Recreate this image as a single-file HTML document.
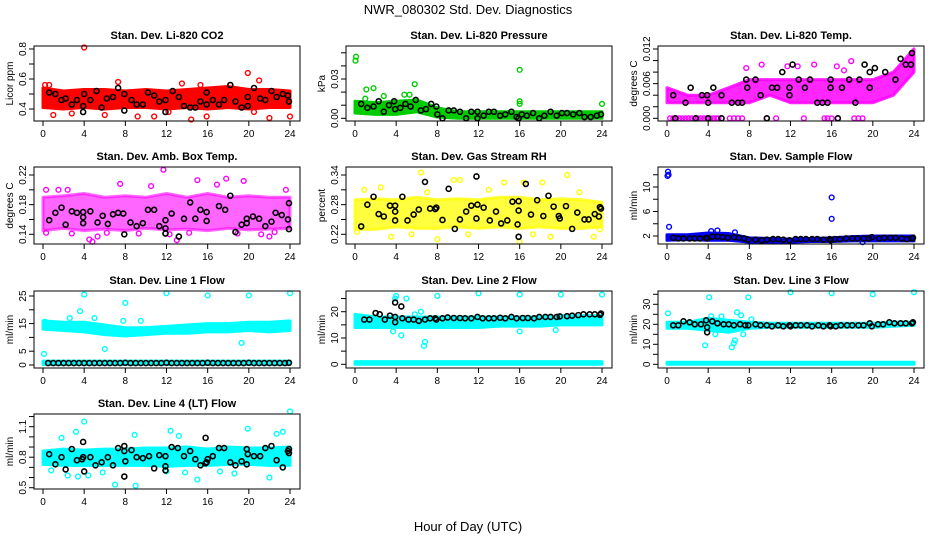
<!DOCTYPE html>
<html><head><meta charset="utf-8"><style>
html,body{margin:0;padding:0;background:#fff}
svg{display:block;font-family:"Liberation Sans",sans-serif}
</style></head><body>
<svg id="chart" width="936" height="540" viewBox="0 0 936 540">
<text x="468" y="14" text-anchor="middle" font-size="13">NWR_080302  Std. Dev. Diagnostics</text>
<text x="468" y="531" text-anchor="middle" font-size="13">Hour of Day (UTC)</text>
</svg>
<script>
const bandHours=[0,2,4,6,8,10,12,14,16,18,20,22,24];
const xTicks=[0,4,8,12,16,20,24];

// P1 CO2
const co2Lo=[0.41,0.40,0.41,0.40,0.41,0.41,0.40,0.41,0.40,0.41,0.40,0.41,0.41];
const co2Hi=[0.54,0.52,0.53,0.53,0.52,0.53,0.52,0.53,0.54,0.55,0.53,0.53,0.52];
const co2OutH=[4,0.2,0.6,2.8,7.3,1.0,6.0,9.2,10.8,14.4,15.9,18.2,19.9,21,22,24,13.5,15.3,12.2,20.5];
const co2OutV=[0.81,0.56,0.56,0.37,0.58,0.36,0.36,0.35,0.35,0.33,0.35,0.56,0.64,0.59,0.34,0.35,0.57,0.56,0.38,0.38];
const co2BlkH=[0.6,1.2,1.8,2.2,2.8,3.3,3.9,3.9,4,4.6,5.2,5.7,6.2,6.8,7.3,7.9,7.9,8.6,9.1,9.7,10.2,10.8,11.3,11.9,11.9,12.6,13.2,13.7,14.3,14.8,15.3,15.9,15.9,16.5,17.1,17.6,18.2,18.7,19.3,19.9,19.9,20.5,21.1,21.6,22.2,22.7,23.3,23.8,23.9];
const co2BlkV=[0.51,0.50,0.46,0.47,0.43,0.46,0.42,0.38,0.50,0.46,0.52,0.41,0.47,0.48,0.54,0.50,0.39,0.46,0.43,0.43,0.51,0.49,0.45,0.46,0.38,0.52,0.48,0.42,0.41,0.41,0.45,0.51,0.43,0.46,0.43,0.46,0.56,0.45,0.41,0.48,0.42,0.54,0.47,0.46,0.52,0.48,0.50,0.49,0.45];

// P2 Pressure
const prLo=[0.004,0.003,0.003,0.005,0.001,0,0,0,0,0,0,0,0];
const prHi=[0.013,0.012,0.013,0.014,0.008,0.005,0.005,0.005,0.005,0.005,0.005,0.005,0.005];
const prOutH=[0.1,0.05,1.1,1.8,5.8,2.8,4.8,5.3,16,16,16,24,1.0];
const prOutV=[0.047,0.044,0.022,0.023,0.026,0.017,0.018,0.018,0.037,0.013,0.011,0.011,0.015];
const prBlkH=[0.6,1.2,1.8,2.3,2.8,3.3,3.8,3.9,4.4,4.9,5.4,5.9,6.4,6.9,7.4,7.9,8.0,8.5,9.1,9.6,10.2,10.8,11.3,11.9,11.9,12.5,13,13.5,14.1,14.6,15.2,15.7,15.9,16.2,16.7,17.3,17.9,18.4,19,19.6,20.1,20.6,21.2,21.8,22.3,22.9,23.5,23.9];
const prBlkV=[0.011,0.008,0.009,0.013,0.005,0.010,0.013,0.007,0.008,0.011,0.009,0.014,0.006,0.007,0.011,0.009,0.003,0.000,0.006,0.006,0.005,0.000,0.005,0.005,0.000,0.002,0.005,0.005,0.002,0.003,0.005,0.001,0.000,0.003,0.002,0.004,0.000,0.002,0.005,0.002,0.004,0.004,0.003,0.004,0.001,0.001,0.002,0.003];

// P3 Temp
const tpLo=[0.0027,0.0027,0.0027,0.0027,0.0027,0.004,0.0027,0.0027,0.0027,0.0027,0.0027,0.004,0.008];
const tpHi=[0.0053,0.004,0.004,0.0053,0.0067,0.0067,0.0067,0.0067,0.0067,0.0067,0.0067,0.008,0.012];
const tpOutH=[0.3,0.6,0.9,1.2,1.5,1.8,2.1,2.4,2.7,3.0,3.3,3.6,3.9,4.2,4.5,4.8,5.0,6.1,6.5,6.9,7.3,9.7,10.6,13.3,15.3,15.6,16.0,16.6,18.2,18.6,19.0,7.7,9.2,11.7,12.7,14.3,16.5,17.9,17.2];
const tpOutV=[0,0,0,0,0,0,0,0,0,0,0,0,0,0,0,0,0,0,0,0,0,0,0,0,0,0,0,0,0,0,0,0.0087,0.0093,0.009,0.009,0.0093,0.009,0.0099,0.0083];
const tpBlkH=[0.6,1.8,2.3,3.4,3.9,4.0,4.5,5.3,6.3,6.9,7.3,7.7,7.8,8.6,9.1,10.2,10.7,11.2,11.9,11.9,12.2,12.8,13.4,13.9,14.6,15.1,15.9,15.9,15.6,17.0,17.7,18.3,18.7,19.2,19.7,19.7,20.2,21.2,22.2,22.7,23.2,23.7,23.8,0.8,2.8,4,5.3,9.7,16.6];
const tpBlkV=[0.004,0.0027,0.0053,0.004,0.004,0.0027,0.0053,0.004,0.0027,0.0027,0.0027,0.0067,0.0053,0.0067,0.004,0.0053,0.0053,0.008,0.004,0.0053,0.0093,0.0067,0.0053,0.0067,0.0027,0.0027,0.0067,0.0053,0.0027,0.0053,0.0067,0.0027,0.0067,0.0093,0.008,0.0053,0.0087,0.008,0.0067,0.0103,0.0093,0.0093,0.0113,0,0,0,0,0,0];

// P4 Amb box temp
const abLo=[0.145,0.148,0.145,0.147,0.145,0.148,0.146,0.147,0.145,0.148,0.146,0.147,0.148];
const abHi=[0.19,0.192,0.195,0.19,0.192,0.19,0.195,0.19,0.195,0.19,0.192,0.19,0.19];
const abOutH=[0.3,1.5,11.7,15,17.8,19.5,4.5,4.8,13,22,5.3,10.5,7.5,16.9,23.6,2.4,0.3,2.8,6.2,9.3,12.3,14.2,18.9,21.2,22.5];
const abOutV=[0.2,0.2,0.227,0.213,0.215,0.212,0.133,0.13,0.132,0.137,0.137,0.205,0.208,0.207,0.2,0.2,0.142,0.141,0.142,0.141,0.14,0.142,0.141,0.14,0.143];
const abBlkH=[0.6,1.2,1.8,2.2,2.8,3.3,3.9,3.9,3.9,4.6,5.3,5.8,6.3,6.8,7.3,7.8,7.9,8.5,9.1,9.7,10.2,10.8,11.3,11.9,11.9,11.9,12.5,13.2,13.7,14.3,14.8,15.3,15.9,15.9,17.1,17.7,18.2,18.7,19.3,19.8,19.8,20.4,21.0,21.6,22.2,22.6,23.2,23.8,23.9,23.9];
const abBlkV=[0.159,0.169,0.176,0.153,0.171,0.169,0.155,0.163,0.170,0.171,0.156,0.165,0.154,0.167,0.169,0.168,0.140,0.156,0.151,0.155,0.173,0.173,0.151,0.159,0.148,0.141,0.168,0.137,0.161,0.183,0.161,0.173,0.170,0.158,0.178,0.173,0.192,0.143,0.153,0.161,0.155,0.164,0.161,0.151,0.157,0.169,0.166,0.160,0.147,0.182];

// P5 RH
const rhLo=[0.23,0.23,0.235,0.232,0.232,0.235,0.232,0.235,0.232,0.235,0.232,0.232,0.235];
const rhHi=[0.29,0.292,0.29,0.295,0.29,0.292,0.29,0.295,0.295,0.29,0.292,0.29,0.285];
const rhOutH=[6.4,20.6,9.6,10.2,16.4,0.9,16,8,3.5,0.2,19,14.5,18.2,2.5,5.5,7,11,13,17.3,21.8,23.2,23.8];
const rhOutV=[0.345,0.34,0.33,0.33,0.325,0.31,0.205,0.21,0.215,0.225,0.215,0.325,0.325,0.315,0.22,0.305,0.22,0.31,0.22,0.305,0.215,0.23];
const rhBlkH=[0.6,1.2,1.8,2.3,2.8,3.4,3.9,3.9,3.9,4.6,5.1,5.7,6.2,6.8,7.3,7.8,7.9,8.5,9.1,9.7,10.2,10.8,11.3,11.8,11.8,11.9,12.5,13.1,13.7,14.2,14.8,15.3,15.9,15.9,15.8,15.9,16.6,17.1,17.7,18.3,18.8,19.3,19.8,19.9,20.5,21.1,21.6,22.3,22.7,23.3,23.7,23.8,23.9];
const rhBlkV=[0.236,0.280,0.296,0.261,0.256,0.278,0.278,0.266,0.248,0.296,0.248,0.260,0.270,0.326,0.272,0.271,0.274,0.249,0.312,0.231,0.250,0.266,0.278,0.252,0.337,0.280,0.274,0.248,0.266,0.242,0.248,0.286,0.287,0.268,0.240,0.215,0.322,0.260,0.289,0.257,0.298,0.276,0.257,0.252,0.277,0.231,0.264,0.250,0.250,0.261,0.256,0.275,0.272];

// P6 Sample flow
const sfLo=[1.3,1.4,1.3,1.3,1.0,1.0,1.0,1.1,1.1,1.2,1.2,1.2,1.2];
const sfHi=[2.2,2.2,2.5,2.4,1.7,1.6,1.5,1.6,1.7,1.9,2.0,2.0,2.0];
const sfOutH=[0.1,0.05,0.15,0.2,16,16,19,4.3,4.9,6.6];
const sfOutV=[12.5,11.8,12.0,3.5,8.3,4.8,1.0,2.8,2.9,2.6];
const sfBlkH=[0.6,1.1,1.6,2.2,2.7,3.2,3.8,3.9,4.4,4.9,5.4,5.9,6.5,7,7.5,7.9,8.6,9.2,9.7,10.3,10.8,11.3,11.9,12.5,13,13.5,14.1,14.6,15.2,15.8,15.9,16.3,16.8,17.4,18,18.5,19.1,19.6,19.9,20.6,21.1,21.7,22.2,22.8,23.3,23.8,23.9];
const sfBlkV=[1.7,1.6,1.6,1.6,1.6,1.6,1.7,1.6,1.9,1.9,1.8,1.7,1.8,1.7,1.6,1.4,1.4,1.3,1.4,1.5,1.5,1.4,1.3,1.5,1.5,1.5,1.5,1.5,1.4,1.5,1.3,1.5,1.5,1.6,1.6,1.6,1.6,1.6,1.8,1.6,1.7,1.7,1.7,1.6,1.5,1.6,1.7];

// P7 Line 1
const l1Lo=[13,12.5,12,11,10.5,11,11.5,11.5,12,12,12.5,12,12.5];
const l1Hi=[16,15.5,15.5,14.5,13.5,13.5,14,14.5,15,15,15.5,15.5,16];
const l1Lo2=[0.2,0.2,0.2,0.2,0.2,0.2,0.2,0.2,0.2,0.2,0.2,0.2,0.2];
const l1Hi2=[1.4,1.4,1.4,1.4,1.4,1.4,1.4,1.4,1.4,1.4,1.4,1.4,1.4];
const l1OutH=[0.1,0.2,4,3.6,8,12,16,20,24,6,19.3,5,7.8,9.5,2.6];
const l1OutV=[4,15.7,25.5,19.5,22.5,26,25.2,25.2,26,5.8,8,17,16,16,17];
const l1BlkH=[0.5,1,1.5,2,2.5,3,3.5,4,4.5,5,5.5,6,6.5,7,7.5,8,8.5,9,9.5,10,10.5,11,11.5,12,12.5,13,13.5,14,14.5,15,15.5,16,16.5,17,17.5,18,18.5,19,19.5,20,20.5,21,21.5,22,22.5,23,23.5,23.9];
const l1BlkV=[0.7,0.7,0.7,0.7,0.7,0.7,0.7,0.7,0.7,0.7,0.7,0.7,0.7,0.7,0.7,0.8,0.7,0.7,0.7,0.7,0.7,0.7,0.7,0.8,0.7,0.7,0.7,0.7,0.7,0.7,0.7,0.8,0.7,0.7,0.7,0.7,0.7,0.7,0.7,0.8,0.7,0.7,0.7,0.7,0.7,0.7,0.7,0.8];

// P8 Line 2
const l2Lo=[14,14,14,14,14,14,14,14.5,14.5,14.5,15,15,15];
const l2Hi=[19,18,18,18,18,18,18,18,18,18,18.5,18.5,18.5];
const l2Lo2=[0,0,0,0,0,0,0,0,0,0,0,0,0];
const l2Hi2=[1,1,1,1,1,1,1,1,1,1,1,1,1];
const l2OutH=[4,5,3.9,8,12,16,20,24,6.7,6.8,4.5,3.7,16,19.5,6.4,5.8];
const l2OutV=[26,25,25,26,27,26.5,26.5,26.5,7,8.5,11,12.5,12.5,13,20,19];
const l2BlkH=[0.9,1.4,2,2.4,2.9,3.4,3.9,3.9,3.9,4.5,4.6,5.2,5.7,6.2,6.8,7.3,7.8,7.9,8.5,9,9.6,10.2,10.7,11.3,11.9,12.4,13,13.5,14.1,14.6,15.2,15.7,16.3,16.8,17.4,17.9,18.5,19,19.6,19.9,20.6,21.1,21.7,22.2,22.8,23.3,23.8,23.9];
const l2BlkV=[17,17,19.5,19,17,18.5,18,16,23.5,22,17.5,17,17,16.5,17,17.5,17.5,17,17.5,17.8,17.6,17.6,17.5,17.5,18,17.5,17.5,17.5,17.7,17.5,18,17.5,17.6,17.6,17.5,18,18,18,18,18.2,18.3,18.5,18.7,19,19,19,18.8,19.3];

// P9 Line 3
const l3Lo=[18,18,17,16,18,18.5,18.5,18.5,18.5,18.5,18.5,19,19.5];
const l3Hi=[21,21,23,22,21,20.5,20.5,20.5,20.5,20.5,20.5,21,21];
const l3Lo2=[0,0,0,0,0,0,0,0,0,0,0,0,0];
const l3Hi2=[1,1,1,1,1,1,1,1,1,1,1,1,1];
const l3OutH=[0.1,4.1,7.9,12,16,20,24,3.7,6.3,6.5,6.6,7.4,4.7,6.8,7.2,4.3,5.3,8.2];
const l3OutV=[25.5,33.5,33.5,36,35.5,35,36,9.5,8.5,10.5,12,15,15,26,24.5,24,24,22.5];
const l3BlkH=[0.6,1.1,1.6,2.2,2.7,3.3,3.8,3.9,3.9,4.4,4.9,5.5,6,6.5,7.1,7.6,7.9,8.6,9.1,9.7,10.2,10.8,11.3,11.9,12,12.5,13,13.6,14.1,14.7,15.2,15.8,15.9,16.4,16.9,17.5,18,18.6,19.1,19.7,19.9,20.5,21,21.6,22.1,22.7,23.2,23.8,23.9];
const l3BlkV=[19.5,19.5,21.5,21,20,20,22,16,18.5,21.5,20.5,20,20,19.5,20,19.5,19.5,20,19.5,19.5,19,19.5,19,19.5,19,19.5,19.5,19.5,19,19.5,19,19.5,19,19,19.5,19.5,19.5,19.5,19.5,20.5,19,20,20,21,20.5,20.5,20.5,20.5,21];

// P10 Line 4
const l4Lo=[0.73,0.72,0.72,0.72,0.72,0.72,0.71,0.72,0.72,0.73,0.73,0.72,0.72];
const l4Hi=[0.86,0.88,0.87,0.88,0.88,0.89,0.89,0.90,0.88,0.90,0.89,0.89,0.90];
const l4OutH=[4,3.2,1.8,12.4,8.9,13.2,19.9,22.7,23.3,24,7,9,15,22,2.4,3.4,4.4,0.8,5.8,12,13.8,17.2,18.6];
const l4OutV=[1.15,1.05,0.99,1.06,1.02,1.01,1.08,1.03,1.05,1.25,0.53,0.52,0.58,0.6,0.62,0.61,0.62,0.67,0.65,0.66,0.65,0.66,0.64];
const l4BlkH=[0.6,1.2,1.8,2.2,2.8,3.3,3.8,3.9,3.9,4,4.6,5.1,5.7,6.3,6.8,7.3,7.9,7.9,8,7.9,8.6,9.1,9.7,10.3,10.8,11.3,11.9,11.9,11.9,12.5,13.1,13.7,14.3,14.8,15.3,15.8,15.9,15.8,16,16.5,17.1,17.6,18.2,18.7,19.3,19.8,19.8,19.9,20.5,21.1,21.6,22.2,22.7,23.3,23.8,23.9,23.9];
const l4BlkV=[0.83,0.73,0.80,0.68,0.88,0.77,0.78,0.95,0.80,0.66,0.80,0.72,0.75,0.80,0.72,0.89,0.86,0.91,0.76,0.61,0.87,0.80,0.79,0.81,0.69,0.82,0.81,0.71,0.67,0.90,0.89,0.81,0.86,0.78,0.72,0.74,0.75,0.99,0.78,0.81,0.89,0.89,0.75,0.72,0.76,0.73,0.88,0.83,0.81,0.81,0.89,0.91,0.77,0.70,0.86,0.88,0.84];

const svg=document.getElementById('chart');
const NS='http://www.w3.org/2000/svg';
function mk(tag,attrs,parent){const e=document.createElementNS(NS,tag);for(const k in attrs)e.setAttribute(k,attrs[k]);(parent||svg).appendChild(e);return e;}
const rowTop=[46,167,291,414],rowBot=[121,244,368,489];

const panels=[
 {id:'co2',c:0,r:0,title:'Stan. Dev. Li-820 CO2',ylab:'Licor ppm',col:'#ff0000',v0:0.4,p0:109,v1:0.8,p1:49,ticks:[0.4,0.5,0.6,0.7,0.8],labs:['0.4','0.6','0.8'],bands:[[co2Lo,co2Hi]],op:1,out:[co2OutH,co2OutV],blk:[co2BlkH,co2BlkV]},
 {id:'pressure',c:1,r:0,title:'Stan. Dev. Li-820 Pressure',ylab:'kPa',col:'#00cc00',v0:0,p0:118.3,v1:0.03,p1:79,ticks:[0,0.01,0.02,0.03,0.04,0.05],labs:['0.00','0.03'],bands:[[prLo,prHi]],op:1,out:[prOutH,prOutV],blk:[prBlkH,prBlkV]},
 {id:'temp',c:2,r:0,title:'Stan. Dev. Li-820 Temp.',ylab:'degrees C',col:'#ff00ff',v0:0,p0:118.3,v1:0.012,p1:49,ticks:[0,0.002,0.004,0.006,0.008,0.010,0.012],labs:['0.000','0.006','0.012'],bands:[[tpLo,tpHi]],op:0.85,out:[tpOutH,tpOutV],blk:[tpBlkH,tpBlkV]},
 {id:'ambbox',c:0,r:1,title:'Stan. Dev. Amb. Box Temp.',ylab:'degrees C',col:'#ff00ff',v0:0.14,p0:234.3,v1:0.22,p1:175,ticks:[0.14,0.16,0.18,0.20,0.22],labs:['0.14','0.18','0.22'],bands:[[abLo,abHi]],op:0.6,out:[abOutH,abOutV],blk:[abBlkH,abBlkV]},
 {id:'rh',c:1,r:1,title:'Stan. Dev. Gas Stream RH',ylab:'percent',col:'#ffff00',v0:0.22,p0:234.3,v1:0.34,p1:175,ticks:[0.22,0.25,0.28,0.31,0.34],labs:['0.22','0.28','0.34'],bands:[[rhLo,rhHi]],op:0.75,out:[rhOutH,rhOutV],blk:[rhBlkH,rhBlkV]},
 {id:'sampleflow',c:2,r:1,title:'Stan. Dev. Sample Flow',ylab:'ml/min',col:'#0000ff',v0:2,p0:236,v1:10,p1:187,ticks:[2,4,6,8,10,12],labs:['2','6','10'],bands:[[sfLo,sfHi]],op:1,out:[sfOutH,sfOutV],blk:[sfBlkH,sfBlkV]},
 {id:'line1',c:0,r:2,title:'Stan. Dev. Line 1 Flow',ylab:'ml/min',col:'#00ffff',v0:0,p0:365,v1:25,p1:296,ticks:[0,5,10,15,20,25],labs:['0','5','15','25'],bands:[[l1Lo,l1Hi],[l1Lo2,l1Hi2]],op:1,out:[l1OutH,l1OutV],blk:[l1BlkH,l1BlkV]},
 {id:'line2',c:1,r:2,title:'Stan. Dev. Line 2 Flow',ylab:'ml/min',col:'#00ffff',v0:0,p0:364.3,v1:20,p1:311.7,ticks:[0,5,10,15,20,25],labs:['0','10','20'],bands:[[l2Lo,l2Hi],[l2Lo2,l2Hi2]],op:1,out:[l2OutH,l2OutV],blk:[l2BlkH,l2BlkV]},
 {id:'line3',c:2,r:2,title:'Stan. Dev. Line 3 Flow',ylab:'ml/min',col:'#00ffff',v0:0,p0:364.3,v1:30,p1:304.3,ticks:[0,5,10,15,20,25,30,35],labs:['0','10','20','30'],bands:[[l3Lo,l3Hi],[l3Lo2,l3Hi2]],op:1,out:[l3OutH,l3OutV],blk:[l3BlkH,l3BlkV]},
 {id:'line4',c:0,r:3,title:'Stan. Dev. Line 4 (LT) Flow',ylab:'ml/min',col:'#00ffff',v0:0.5,p0:487.7,v1:1.1,p1:426.7,ticks:[0.5,0.6,0.7,0.8,0.9,1.0,1.1,1.2],labs:['0.5','0.8','1.1'],bands:[[l4Lo,l4Hi]],op:1,out:[l4OutH,l4OutV],blk:[l4BlkH,l4BlkV]}
];

panels.forEach(p=>{
  const L=34+312*p.c,R=300+312*p.c,T=rowTop[p.r],B=rowBot[p.r];
  const xs=h=>43+312*p.c+h*247/24;
  const ys=v=>p.p0+(v-p.v0)*(p.p1-p.p0)/(p.v1-p.v0);
  const g=mk('g',{});
  
  
  const t=mk('text',{x:(L+R)/2,y:T-7,'text-anchor':'middle','font-size':'11','font-weight':'bold'},g);
  t.textContent=p.title;
  
  
  const yl=mk('text',{x:0,y:0,'text-anchor':'middle','font-size':'10',transform:`translate(${L-21},${(T+B)/2}) rotate(-90)`},g);
  yl.textContent=p.ylab;
  
  
  p.bands.forEach(bd=>{
    let pts=bandHours.map((h,i)=>xs(h)+','+ys(bd[1][i]));
    pts=pts.concat(bandHours.slice().reverse().map((h,j)=>{const i=bandHours.length-1-j;return xs(h)+','+ys(bd[0][i]);}));
    const pg=mk('polygon',{points:pts.join(' '),fill:p.col,'fill-opacity':p.op,stroke:p.col,'stroke-width':3,'stroke-opacity':p.op,'stroke-linejoin':'round'},g);
    
    
  });
  p.out[0].forEach((h,i)=>{
    const c=mk('circle',{cx:xs(h),cy:ys(p.out[1][i]),r:2.4,fill:'none',stroke:p.col,'stroke-width':1.4},g);
    
    
  });
  p.blk[0].forEach((h,i)=>{
    const c=mk('circle',{cx:xs(h),cy:ys(p.blk[1][i]),r:2.5,fill:'none',stroke:'#000','stroke-width':1.6},g);
    
    
  });
  const bx=mk('rect',{x:L,y:T,width:R-L,height:B-T,fill:'none',stroke:'#000','stroke-width':1},g);
  
  
  xTicks.forEach(h=>{
    mk('line',{x1:xs(h),x2:xs(h),y1:B,y2:B+5,stroke:'#000'},g);
    const tx=mk('text',{x:xs(h),y:B+16,'text-anchor':'middle','font-size':'10'},g);
    tx.textContent=String(h);
    
    
  });
  p.ticks.forEach(v=>{mk('line',{x1:L-5,x2:L,y1:ys(v),y2:ys(v),stroke:'#000'},g);});
  p.labs.forEach(s=>{
    const v=parseFloat(s);
    const tx=mk('text',{x:0,y:0,'text-anchor':'middle','font-size':'10',transform:`translate(${L-8},${ys(v)}) rotate(-90)`},g);
    tx.textContent=s;
    
    
  });
});
</script>
</body></html>
